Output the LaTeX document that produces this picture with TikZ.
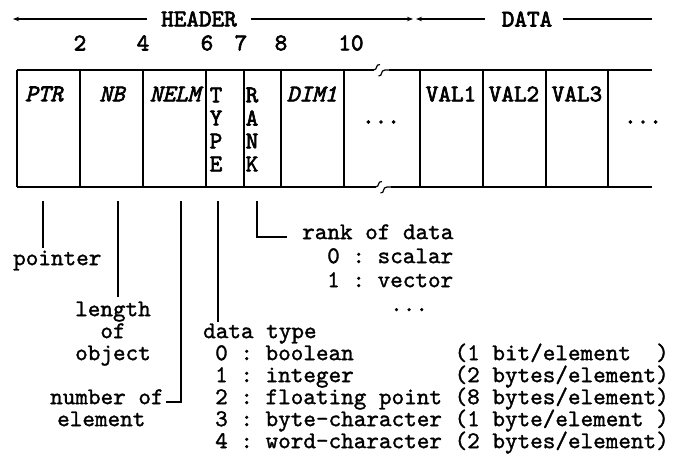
\documentclass[tikz,border=0pt]{standalone}
\usepackage{fontspec}
\newfontfamily\txtfont{lmmono10-regular.otf}[ItalicFont=lmmono10-italic.otf, FakeBold=1.3]
\newfontfamily\lblfont{lmmono10-regular.otf}[ItalicFont=lmmono10-italic.otf, FakeBold=2.6]
\usetikzlibrary{arrows.meta}
\begin{document}
\begin{tikzpicture}[x=1pt,y=-1pt,
  txt/.style={font=\txtfont\fontsize{24}{20}\selectfont, inner sep=0pt},
  row/.style={txt, anchor=mid west},
  lbl/.style={font=\lblfont\fontsize{24}{20}\selectfont, inner sep=0pt},
  ilbl/.style={font=\lblfont\itshape\fontsize{24}{20}\selectfont, inner sep=0pt},
  boxline/.style={line width=1.6pt},
  brk/.style={line width=1.2pt},
  leader/.style={line width=1.3pt},
  hdr/.style={line width=1.2pt},
  tip/.style={-{Stealth[length=6pt,width=4.5pt]}},
]
\useasboundingbox (0,0) rectangle (689,464);

% header row
\node[lbl] (header) at (199,19) {HEADER};
\node[lbl] (data) at (527,19) {DATA};
\coordinate (hL) at (13,19);
\coordinate (hM1) at (413,19);
\coordinate (hM2) at (416,19);
\coordinate (dR) at (652,19);
\draw[hdr,tip] ([xshift=-14pt]header.west) -- (hL);
\draw[hdr,tip] ([xshift=14pt]header.east) -- (hM1);
\draw[hdr,tip] ([xshift=-17pt]data.west) -- (hM2);
\draw[hdr] ([xshift=11pt]data.east) -- (dR);

% byte numbers
\node[lbl] (n2) at (80,43) {2};
\node[lbl] (n4) at (143,43) {4};
\node[lbl] (n6) at (207,43) {6};
\node[lbl] (n7) at (241,43) {7};
\node[lbl] (n8) at (281,43) {8};
\node[lbl] (n10) at (351,43) {10};

% box outline
\draw[boxline] (17,70) -- (374,70);
\draw[boxline] (389,70) -- (652,70);
\draw[brk] (373.5,70) .. controls (378,70) and (375,64) .. (380,64.5);
\draw[brk] (378.5,76) .. controls (383,76.5) and (380,70) .. (385,70) -- (389,70);
\draw[boxline] (17,187) -- (376,187);
\draw[boxline] (391,187) -- (652,187);
\draw[brk] (375.5,187) .. controls (380,187) and (377,181) .. (382,181.5);
\draw[brk] (380.5,193) .. controls (385,193.5) and (382,187) .. (387,187) -- (391,187);
\foreach \x in {17,80,143,206,244,281,344,420,483,546,608}
  \draw[boxline] (\x,70) -- (\x,187);

% cell labels
\node[ilbl] (ptr) at (44,94) {PTR};
\node[ilbl] (nb) at (112,94) {NB};
\node[ilbl] (nelm) at (175,94) {NELM};
\foreach \l [count=\i] in {T,Y,P,E}
  \node[lbl] (type\i) at (216,72+23*\i) {\l};
\foreach \l [count=\i] in {R,A,N,K}
  \node[lbl] (rank\i) at (252,72+23*\i) {\l};
\node[ilbl] (dim) at (312,94) {DIM1};
\node[lbl] (dots1) at (381,122) {...};
\node[lbl] (val1) at (451,94) {VAL1};
\node[lbl] (val2) at (514,94) {VAL2};
\node[lbl] (val3) at (577,94) {VAL3};
\node[lbl] (dots2) at (643,122) {...};

% explanations
\node[row] (pointer) at (13,263) {pointer};
\node[txt, anchor=mid] (length) at (113,314) {length};
\node[txt, anchor=mid] (of) at (113,336) {of};
\node[txt, anchor=mid] (object) at (113,358) {object};
\node[row] (numof) at (50,402) {number of};
\node[row] (element) at (57,424) {element};
\node[row] (dtype) at (203,336) {data type};
\node[row] (d0) at (215,358) {0~:~boolean~~~~~~~~(1~bit/element~~)};
\node[row] (d1) at (215,380) {1~:~integer~~~~~~~~(2~bytes/element)};
\node[row] (d2) at (215,402) {2~:~floating~point~(8~bytes/element)};
\node[row] (d3) at (215,424) {3~:~byte-character~(1~byte/element~)};
\node[row] (d4) at (215,446) {4~:~word-character~(2~bytes/element)};
\node[row] (rankof) at (302,237) {rank of data};
\node[row] (r0) at (327,261) {0~:~scalar};
\node[row] (r1) at (327,285) {1~:~vector};
\node[row] (rdots) at (390,309) {...};

% leader lines
\coordinate (ptrA) at (43,201);
\coordinate (ptrB) at (43,248);
\draw[leader] (ptrA) -- (ptrB);
\coordinate (nbA) at (118,201);
\coordinate (nbB) at (118,297);
\draw[leader] (nbA) -- (nbB);
\coordinate (nelmA) at (181,201);
\draw[leader] (nelmA) -- (nelmA |- numof.mid) -- ([xshift=2pt]numof.mid east);
\coordinate (typeA) at (218,201);
\coordinate (typeB) at (218,322);
\draw[leader] (typeA) -- (typeB);
\coordinate (rankA) at (257,201);
\draw[leader] (rankA) -- (rankA |- rankof.mid) -- ([xshift=-15pt]rankof.mid west);
\end{tikzpicture}
\end{document}
